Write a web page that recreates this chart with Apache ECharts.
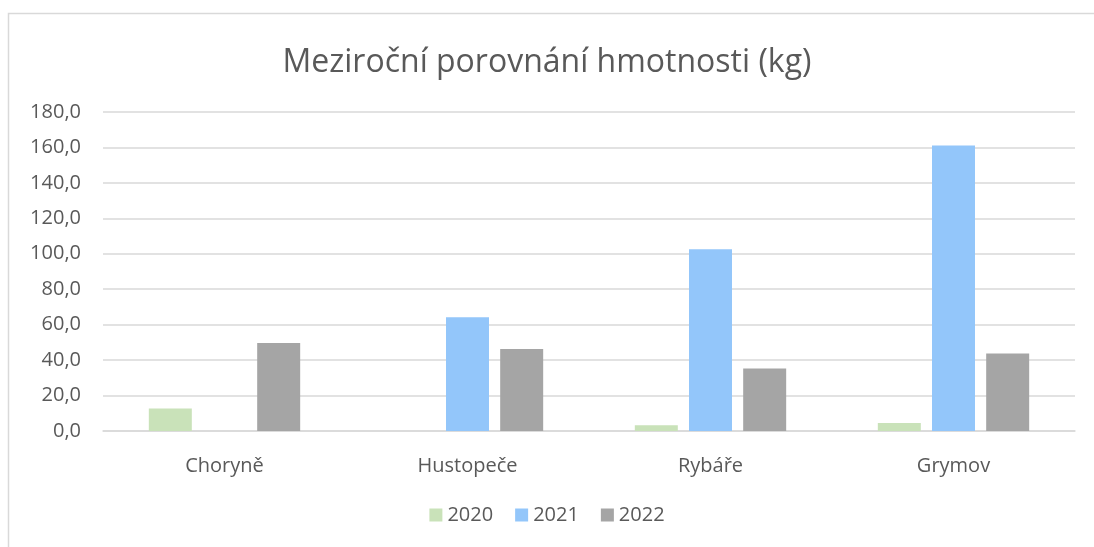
<!DOCTYPE html>
<html><head><meta charset="utf-8">
<script src="https://cdn.jsdelivr.net/npm/echarts@6/dist/echarts.min.js"></script>
<style>html,body{margin:0;padding:0;background:#fff}#c{width:1094px;height:547px}</style>
</head><body><div id="c"></div>
<script>
const categories = ['Choryně', 'Hustopeče', 'Rybáře', 'Grymov'];
const seriesNames = ['2020', '2021', '2022'];
const values2020 = [12.7, null, 3.2, 4.5];
const values2021 = [null, 64.2, 102.6, 161.1];
const values2022 = [49.6, 46.2, 35.3, 43.8];
const yTicks = { min: 0, max: 180, interval: 20 };
const colors = ['#C9E2B9', '#93C6FA', '#A5A5A5'];

const chart = echarts.init(document.getElementById('c'));
const font = 'Open Sans, Noto Sans, sans-serif';
const data = [values2020, values2021, values2022];
chart.setOption({
  animation: false,
  backgroundColor: '#fff',
  title: { text: 'Meziroční porovnání hmotnosti (kg)', left: 'center', top: 42,
    textStyle: { fontFamily: font, fontSize: 32, fontWeight: 'normal', color: '#595959' } },
  graphic: [{ type: 'rect', shape: { x: 8.5, y: 13.5, width: 1100, height: 560 }, silent: true,
    style: { fill: null, stroke: '#D9D9D9', lineWidth: 1.5 } }],
  legend: { bottom: 17, left: 'center', itemWidth: 13, itemHeight: 13, itemGap: 22,
    icon: 'rect', textStyle: { fontFamily: font, fontSize: 20, color: '#595959' }, data: seriesNames },
  grid: { left: 103, right: 19, top: 112, bottom: 116, containLabel: false },
  xAxis: { type: 'category', data: categories,
    axisLine: { lineStyle: { color: '#D9D9D9', width: 1.5 } }, axisTick: { show: false },
    axisLabel: { fontFamily: font, fontSize: 20, color: '#595959', margin: 25 } },
  yAxis: { type: 'value', min: yTicks.min, max: yTicks.max, interval: yTicks.interval,
    axisLine: { show: false }, axisTick: { show: false },
    splitLine: { lineStyle: { color: '#D9D9D9', width: 1.5 } },
    axisLabel: { fontFamily: font, fontSize: 20, color: '#595959', margin: 22,
      formatter: v => v.toFixed(1).replace('.', ',') } },
  series: seriesNames.map((n, i) => ({ name: n, type: 'bar', data: data[i], barWidth: 43, barGap: '26%',
    itemStyle: { color: colors[i] } }))
});
</script></body></html>
